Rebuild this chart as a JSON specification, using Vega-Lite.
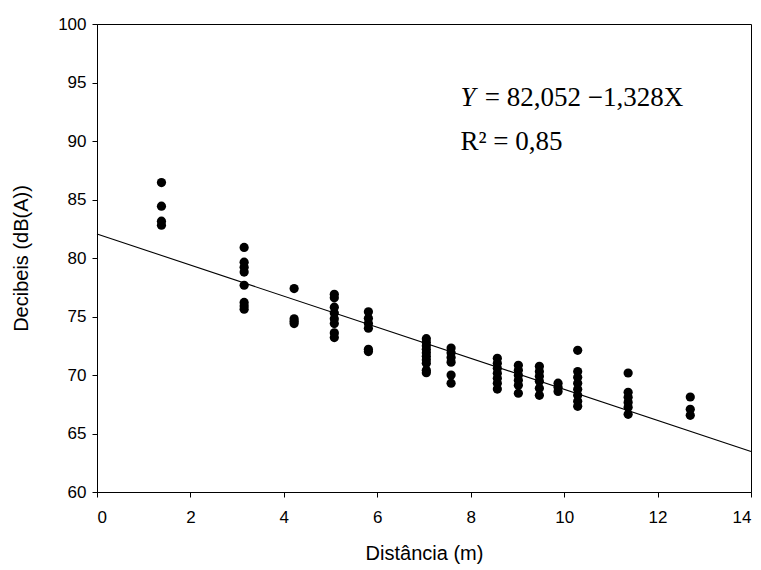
{
  "$schema": "https://vega.github.io/schema/vega-lite/v6.json",
  "width": 654,
  "height": 468,
  "autosize": {"type": "none"},
  "padding": {"left": 97, "top": 24, "right": 10, "bottom": 78},
  "background": "white",
  "config": {
    "view": {"stroke": "black", "strokeWidth": 1},
    "font": "Liberation Sans",
    "axis": {
      "grid": false,
      "domainColor": "black",
      "tickColor": "black",
      "tickSize": 5,
      "labelColor": "black",
      "titleColor": "black",
      "labelFont": "Liberation Sans",
      "titleFont": "Liberation Sans",
      "labelFontSize": 17,
      "titleFontSize": 20,
      "titleFontWeight": "normal"
    }
  },
  "datasets": {
    "points": [
      {"d": 1.38, "db": 86.45}, {"d": 1.38, "db": 84.43}, {"d": 1.38, "db": 83.15}, {"d": 1.38, "db": 82.8},
      {"d": 3.15, "db": 80.9}, {"d": 3.15, "db": 79.64}, {"d": 3.15, "db": 79.2}, {"d": 3.15, "db": 78.8}, {"d": 3.15, "db": 77.67}, {"d": 3.15, "db": 76.2}, {"d": 3.15, "db": 75.9}, {"d": 3.15, "db": 75.62},
      {"d": 4.22, "db": 77.39}, {"d": 4.22, "db": 74.8}, {"d": 4.22, "db": 74.6}, {"d": 4.22, "db": 74.4},
      {"d": 5.08, "db": 76.9}, {"d": 5.08, "db": 76.6}, {"d": 5.08, "db": 75.8}, {"d": 5.08, "db": 75.3}, {"d": 5.08, "db": 74.8}, {"d": 5.08, "db": 74.4}, {"d": 5.08, "db": 73.6}, {"d": 5.08, "db": 73.2},
      {"d": 5.81, "db": 75.4}, {"d": 5.81, "db": 74.85}, {"d": 5.81, "db": 74.4}, {"d": 5.81, "db": 74.0}, {"d": 5.81, "db": 72.2}, {"d": 5.81, "db": 72.0},
      {"d": 7.05, "db": 73.1}, {"d": 7.05, "db": 72.8}, {"d": 7.05, "db": 72.5}, {"d": 7.05, "db": 72.2}, {"d": 7.05, "db": 71.9}, {"d": 7.05, "db": 71.6}, {"d": 7.05, "db": 71.3}, {"d": 7.05, "db": 71.0}, {"d": 7.05, "db": 70.4}, {"d": 7.05, "db": 70.2},
      {"d": 7.58, "db": 72.3}, {"d": 7.58, "db": 71.9}, {"d": 7.58, "db": 71.5}, {"d": 7.58, "db": 71.1}, {"d": 7.58, "db": 70.0}, {"d": 7.58, "db": 69.3},
      {"d": 8.57, "db": 71.43}, {"d": 8.57, "db": 71.0}, {"d": 8.57, "db": 70.57}, {"d": 8.57, "db": 70.15}, {"d": 8.57, "db": 69.72}, {"d": 8.57, "db": 69.3}, {"d": 8.57, "db": 68.8},
      {"d": 9.02, "db": 70.83}, {"d": 9.02, "db": 70.4}, {"d": 9.02, "db": 69.97}, {"d": 9.02, "db": 69.55}, {"d": 9.02, "db": 69.12}, {"d": 9.02, "db": 68.44},
      {"d": 9.47, "db": 70.74}, {"d": 9.47, "db": 70.3}, {"d": 9.47, "db": 69.9}, {"d": 9.47, "db": 69.46}, {"d": 9.47, "db": 68.86}, {"d": 9.47, "db": 68.26},
      {"d": 9.87, "db": 69.3}, {"d": 9.87, "db": 68.95}, {"d": 9.87, "db": 68.6},
      {"d": 10.29, "db": 72.11}, {"d": 10.29, "db": 70.3}, {"d": 10.29, "db": 69.8}, {"d": 10.29, "db": 69.3}, {"d": 10.29, "db": 68.78}, {"d": 10.29, "db": 68.26}, {"d": 10.29, "db": 67.75}, {"d": 10.29, "db": 67.32},
      {"d": 11.37, "db": 70.17}, {"d": 11.37, "db": 68.52}, {"d": 11.37, "db": 68.1}, {"d": 11.37, "db": 67.66}, {"d": 11.37, "db": 67.24}, {"d": 11.37, "db": 66.64},
      {"d": 12.7, "db": 68.12}, {"d": 12.7, "db": 67.07}, {"d": 12.7, "db": 66.55}
    ],
    "fit": [
      {"d": 0, "db": 82.052},
      {"d": 14, "db": 63.46}
    ],
    "eqY": [{"d": 7.78, "db": 93.67, "t": "Y"}],
    "eqRest": [{"d": 8.3, "db": 93.67, "t": "= 82,052 −1,328X"}],
    "r2": [{"d": 7.78, "db": 89.9, "t": "R² = 0,85"}]
  },
  "layer": [
    {
      "data": {"name": "fit"},
      "mark": {"type": "line", "color": "black", "strokeWidth": 1.1},
      "encoding": {
        "x": {"field": "d", "type": "quantitative", "scale": {"domain": [0, 14], "nice": false}, "axis": {"title": "Distância (m)", "values": [0, 2, 4, 6, 8, 10, 12, 14], "titlePadding": 18, "labelPadding": 12}},
        "y": {"field": "db", "type": "quantitative", "scale": {"domain": [60, 100], "nice": false, "zero": false}, "axis": {"title": "Decibeis (dB(A))", "values": [60, 65, 70, 75, 80, 85, 90, 95, 100], "titlePadding": 26, "labelPadding": 6}}
      }
    },
    {
      "data": {"name": "points"},
      "mark": {"type": "circle", "color": "black", "opacity": 1, "size": 85},
      "encoding": {
        "x": {"field": "d", "type": "quantitative"},
        "y": {"field": "db", "type": "quantitative"}
      }
    },
    {
      "data": {"name": "eqY"},
      "mark": {"type": "text", "font": "Liberation Serif", "fontSize": 27, "fontStyle": "italic", "align": "left", "baseline": "middle", "color": "black"},
      "encoding": {
        "x": {"field": "d", "type": "quantitative"},
        "y": {"field": "db", "type": "quantitative"},
        "text": {"field": "t"}
      }
    },
    {
      "data": {"name": "eqRest"},
      "mark": {"type": "text", "font": "Liberation Serif", "fontSize": 27, "align": "left", "baseline": "middle", "color": "black"},
      "encoding": {
        "x": {"field": "d", "type": "quantitative"},
        "y": {"field": "db", "type": "quantitative"},
        "text": {"field": "t"}
      }
    },
    {
      "data": {"name": "r2"},
      "mark": {"type": "text", "font": "Liberation Serif", "fontSize": 27, "align": "left", "baseline": "middle", "color": "black"},
      "encoding": {
        "x": {"field": "d", "type": "quantitative"},
        "y": {"field": "db", "type": "quantitative"},
        "text": {"field": "t"}
      }
    }
  ]
}
